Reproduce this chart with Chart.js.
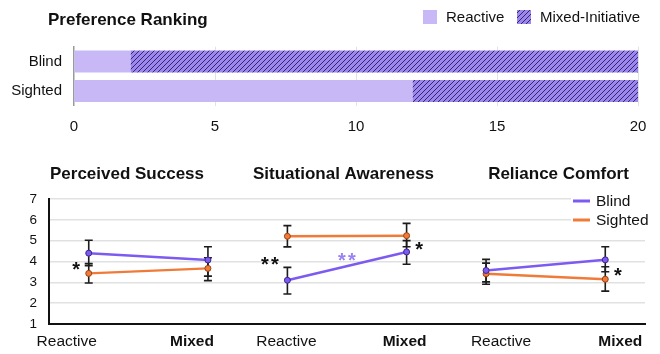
<!DOCTYPE html>
<html>
<head>
<meta charset="utf-8">
<script src="https://cdn.jsdelivr.net/npm/chart.js@4.4.0/dist/chart.umd.min.js"></script>
<style>
  html, body { margin: 0; padding: 0; background: #fff; }
  #wrap { position: relative; width: 660px; height: 354px; }
  canvas { position: absolute; left: 0; }
  #rank { top: 0; }
  #scores { top: 140px; }
</style>
</head>
<body>
<div id="wrap">
  <canvas id="rank" width="660" height="140"></canvas>
  <canvas id="scores" width="660" height="214"></canvas>
</div>
<script>
// ---- Preference ranking (number of participants preferring each mode) ----
const groups = ['Blind', 'Sighted'];
const reactiveCount = [2, 12];
const mixedCount = [18, 8];
const rankTicks = [0, 5, 10, 15, 20];

// ---- Likert ratings, per metric: [Reactive, Mixed] ----
const metrics = ['Perceived Success', 'Situational Awareness', 'Reliance Comfort'];
const conditions = ['Reactive', 'Mixed'];
const blindMean   = [[4.40, 4.07], [3.10, 4.46], [3.57, 4.08]];
const blindLow    = [[3.80, 3.30], [2.44, 3.87], [3.02, 3.51]];
const blindHigh   = [[5.02, 4.71], [3.72, 5.00], [4.10, 4.71]];
const sightedMean = [[3.43, 3.67], [5.21, 5.24], [3.41, 3.15]];
const sightedLow  = [[2.97, 3.08], [4.70, 4.71], [2.91, 2.58]];
const sightedHigh = [[3.90, 4.18], [5.72, 5.83], [3.92, 3.75]];
const likertTicks = [1, 2, 3, 4, 5, 6, 7];

// significance between groups at a condition, and within the blind group across conditions
const sigBetween = [
  { metric: 0, cond: 0, label: '*' },
  { metric: 1, cond: 0, label: '**' },
  { metric: 1, cond: 1, label: '*' },
  { metric: 2, cond: 1, label: '*' }
];
const sigWithinBlind = [{ metric: 1, label: '**' }];

// ---- styling ----
const FONT = "'Liberation Sans', Arial, Helvetica, sans-serif";
const PURPLE = '#7d5af0';
const PURPLE_EDGE = '#3b2690';
const ORANGE = '#f07b38';
const ORANGE_EDGE = '#9a4212';
const LIGHT = '#c8b9f6';
const HATCH_BASE = '#9c86ef';
const INK = '#111';

function hatch(base, line) {
  const s = 5;
  const c = document.createElement('canvas');
  c.width = s; c.height = s;
  const g = c.getContext('2d');
  g.fillStyle = base; g.fillRect(0, 0, s, s);
  g.strokeStyle = line; g.lineWidth = 0.9;
  g.beginPath();
  g.moveTo(0, s); g.lineTo(s, 0);
  g.moveTo(-1, 1); g.lineTo(1, -1);
  g.moveTo(s - 1, s + 1); g.lineTo(s + 1, s - 1);
  g.stroke();
  return g.createPattern(c, 'repeat');
}
const HATCH = hatch(HATCH_BASE, '#2a1d55');

// ================= top: stacked horizontal bars =================
const rankDecor = {
  id: 'rankDecor',
  afterDraw(chart) {
    const ctx = chart.ctx;
    ctx.save();
    ctx.fillStyle = INK;
    ctx.font = `bold 17px ${FONT}`;
    ctx.textBaseline = 'alphabetic';
    ctx.textAlign = 'left';
    ctx.fillText('Preference Ranking', 48, 25);

    // legend
    const items = [
      { text: 'Reactive', fill: LIGHT, x: 423 },
      { text: 'Mixed-Initiative', fill: HATCH, x: 517 }
    ];
    ctx.font = `15px ${FONT}`;
    ctx.textBaseline = 'middle';
    items.forEach(it => {
      ctx.fillStyle = it.fill;
      ctx.fillRect(it.x, 10, 14, 14);
      ctx.fillStyle = INK;
      ctx.fillText(it.text, it.x + 23, 17.5);
    });
    ctx.restore();
  }
};

new Chart(document.getElementById('rank'), {
  type: 'bar',
  data: {
    labels: groups,
    datasets: [
      { label: 'Reactive', data: reactiveCount, backgroundColor: LIGHT,
        barPercentage: 0.74, categoryPercentage: 1 },
      { label: 'Mixed-Initiative', data: mixedCount, backgroundColor: HATCH,
        barPercentage: 0.74, categoryPercentage: 1 }
    ]
  },
  options: {
    indexAxis: 'y',
    responsive: false,
    animation: false,
    layout: { padding: { top: 46.75, right: 22, left: 0, bottom: 0 } },
    plugins: { legend: { display: false }, tooltip: { enabled: false } },
    scales: {
      x: {
        stacked: true, min: 0, max: 20,
        afterBuildTicks: s => { s.ticks = rankTicks.map(v => ({ value: v })); },
        ticks: { font: { family: FONT, size: 15 }, color: INK, padding: 12 },
        grid: { color: c => (c.tick && c.tick.value === 0 ? 'rgba(0,0,0,0)' : '#e2e2e2'),
                drawTicks: false, lineWidth: 1 },
        border: { display: false },
        afterFit: s => { s.height = 34.25; }
      },
      y: {
        stacked: true,
        ticks: { font: { family: FONT, size: 15 }, color: INK, padding: 12 },
        grid: { display: false, drawTicks: false },
        border: { color: '#9a9a9a', width: 1.5 },
        afterFit: s => { s.width = 74; }
      }
    }
  },
  plugins: [rankDecor]
});

// ================= bottom: three panels of ratings =================
// each panel spans one unit of the x scale; conditions sit at fixed fractions inside it
const condPos = [0.2, 0.8];
const titleCenters = [127, 343.5, 558.5];
const labelShift = [[-22, -16], [-1, -2], [15, 15]];

const lineSets = [];
metrics.forEach((m, mi) => {
  [['Blind', blindMean, PURPLE, PURPLE_EDGE], ['Sighted', sightedMean, ORANGE, ORANGE_EDGE]]
    .forEach(([name, means, col, edge]) => {
      lineSets.push({
        label: name + ' – ' + m,
        data: conditions.map((c, ci) => ({ x: mi + condPos[ci], y: means[mi][ci] })),
        borderColor: col, backgroundColor: col,
        pointBackgroundColor: col, pointBorderColor: edge,
        pointBorderWidth: 1, pointRadius: 3, borderWidth: 2.5,
        tension: 0, order: name === 'Blind' ? 1 : 2
      });
    });
});

function drawStars(ctx, text, x, yCenter, align, color) {
  const size = 20, gap = 10;
  ctx.font = `bold ${size}px ${FONT}`;
  ctx.fillStyle = color;
  ctx.textAlign = 'center';
  ctx.textBaseline = 'alphabetic';
  const n = text.length;
  const w = (n - 1) * gap + 7;
  let start;
  if (align === 'right') start = x - w + 3.5;
  else if (align === 'left') start = x + 3.5;
  else start = x - w / 2 + 3.5;
  for (let i = 0; i < n; i++) {
    ctx.fillText('*', start + i * gap, yCenter + size * 0.58);
  }
}

const scoreDecor = {
  id: 'scoreDecor',
  beforeDatasetsDraw(chart) {
    const ctx = chart.ctx, xs = chart.scales.x, ys = chart.scales.y;
    ctx.save();
    ctx.strokeStyle = '#1c1c1c';
    ctx.lineWidth = 1.6;
    const cap = 4;
    metrics.forEach((m, mi) => {
      conditions.forEach((c, ci) => {
        const px = xs.getPixelForValue(mi + condPos[ci]);
        [[blindLow, blindHigh], [sightedLow, sightedHigh]].forEach(([lo, hi]) => {
          const y1 = ys.getPixelForValue(lo[mi][ci]);
          const y2 = ys.getPixelForValue(hi[mi][ci]);
          ctx.beginPath();
          ctx.moveTo(px, y1); ctx.lineTo(px, y2);
          ctx.moveTo(px - cap, y1); ctx.lineTo(px + cap, y1);
          ctx.moveTo(px - cap, y2); ctx.lineTo(px + cap, y2);
          ctx.stroke();
        });
      });
    });
    ctx.restore();
  },
  afterDraw(chart) {
    const ctx = chart.ctx, xs = chart.scales.x, ys = chart.scales.y;
    ctx.save();
    // panel titles
    ctx.fillStyle = INK;
    ctx.font = `bold 17px ${FONT}`;
    ctx.textAlign = 'center';
    ctx.textBaseline = 'middle';
    metrics.forEach((m, mi) => ctx.fillText(m, titleCenters[mi], 34));

    // condition labels under each panel
    metrics.forEach((m, mi) => {
      conditions.forEach((c, ci) => {
        ctx.font = (ci === 1 ? 'bold ' : '') + `15.5px ${FONT}`;
        ctx.fillStyle = INK;
        const px = xs.getPixelForValue(mi + condPos[ci]) + labelShift[mi][ci];
        ctx.fillText(c, px, 201.5);
      });
    });

    // significance markers
    sigBetween.forEach(s => {
      const px = xs.getPixelForValue(s.metric + condPos[s.cond]);
      const mid = (blindMean[s.metric][s.cond] + sightedMean[s.metric][s.cond]) / 2;
      const py = ys.getPixelForValue(mid) + 1;
      if (s.cond === 0) drawStars(ctx, s.label, px - 9, py, 'right', INK);
      else drawStars(ctx, s.label, px + 9, py, 'left', INK);
    });
    sigWithinBlind.forEach(s => {
      const px = xs.getPixelForValue(s.metric + 0.5);
      const mid = (blindMean[s.metric][0] + blindMean[s.metric][1]) / 2;
      drawStars(ctx, s.label, px, ys.getPixelForValue(mid) - 11, 'center', '#9a82f6');
    });

    // legend
    ctx.fillStyle = '#fff';
    ctx.fillRect(571, 51, 89, 38);
    [['Blind', PURPLE, 61], ['Sighted', ORANGE, 80]].forEach(([t, col, y]) => {
      ctx.strokeStyle = col;
      ctx.lineWidth = 3;
      ctx.beginPath(); ctx.moveTo(573, y); ctx.lineTo(590, y); ctx.stroke();
      ctx.fillStyle = INK;
      ctx.font = `15.5px ${FONT}`;
      ctx.textAlign = 'left';
      ctx.textBaseline = 'middle';
      ctx.fillText(t, 596, y + 0.5);
    });
    ctx.restore();
  }
};

new Chart(document.getElementById('scores'), {
  type: 'line',
  data: { datasets: lineSets },
  options: {
    responsive: false,
    animation: false,
    layout: { padding: { top: 59, right: 15, left: 0, bottom: 0 } },
    plugins: { legend: { display: false }, tooltip: { enabled: false } },
    scales: {
      x: {
        type: 'linear', min: 0, max: metrics.length,
        ticks: { display: false },
        grid: { display: false, drawTicks: false },
        border: { color: '#111', width: 2 },
        afterFit: s => { s.height = 30; }
      },
      y: {
        min: 1, max: 7,
        afterBuildTicks: s => { s.ticks = likertTicks.map(v => ({ value: v })); },
        ticks: { font: { family: FONT, size: 13.5 }, color: INK, padding: 12 },
        grid: { color: c => (c.tick && c.tick.value === 1 ? 'rgba(0,0,0,0)' : '#e1e1e1'),
                drawTicks: false, lineWidth: 1.5 },
        border: { color: '#111', width: 2 },
        afterFit: s => { s.width = 49; }
      }
    }
  },
  plugins: [scoreDecor]
});
</script>
</body>
</html>
